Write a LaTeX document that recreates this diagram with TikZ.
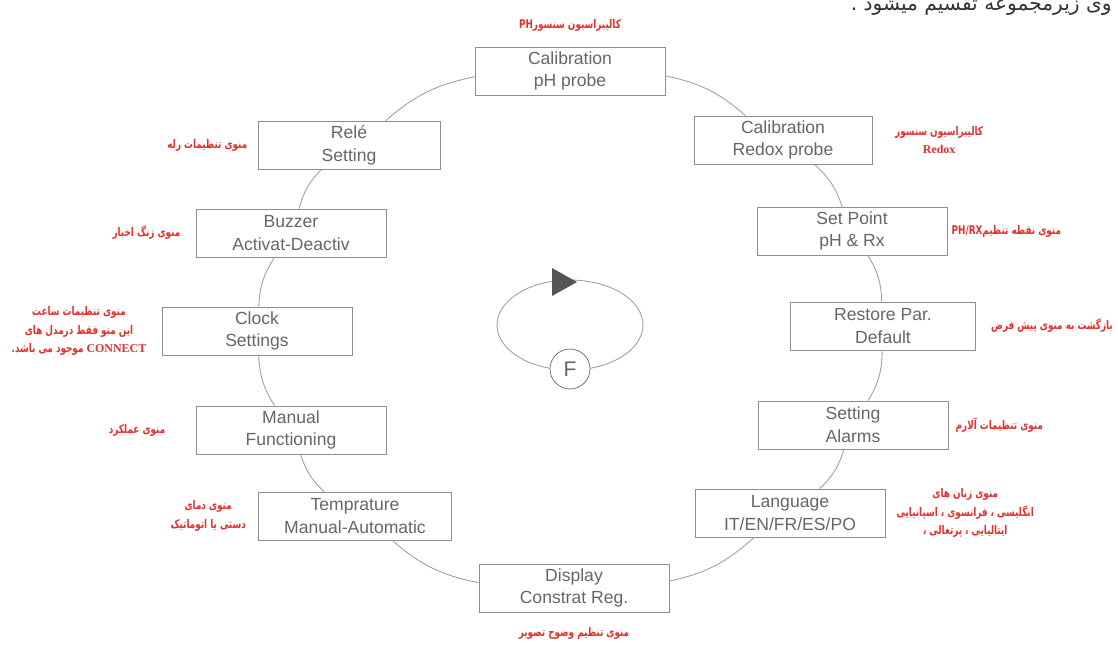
\documentclass[tikz,border=0pt]{standalone}
\usepackage{fontspec}
\setsansfont{Liberation Sans}
\newfontfamily\fa[Script=Arabic, FakeStretch=0.74]{DejaVu Sans}
\newfontfamily\fahead[Script=Arabic]{DejaVu Sans}
\newfontfamily\lat{Liberation Serif}
\TeXXeTstate=1
\usetikzlibrary{positioning}
\definecolor{boxgrey}{HTML}{8E8E8E}
\definecolor{txtgrey}{HTML}{666666}
\definecolor{ringgrey}{HTML}{A0A0A0}
\definecolor{farsired}{HTML}{E0312F}
\definecolor{tipgrey}{HTML}{555555}

\begin{document}
\begin{tikzpicture} [
	x=0.02cm, y=-0.02cm,
	menu/.style = {draw=boxgrey, fill=white, minimum width=3.8cm, minimum height=0.96cm, align=center, inner sep=1pt, text=txtgrey, font=\sffamily\fontsize{10}{13}\selectfont},
	ring/.style = {draw=ringgrey, line width=0.5pt},
	note/.style = {text=farsired, align=center, inner sep=0pt, font=\fa\bfseries\fontsize{6.8}{10.5}\selectfont},
]
\fill[white] (0,0) rectangle (1118,646);
\useasboundingbox (0,0) rectangle (1118,646);

\node [menu] (cph) at (570,71) {Calibration\\pH probe};
\node [menu, minimum width=3.56cm] (crx) at (783,140) {Calibration\\Redox probe};
\node [menu] (spt) at (852,231) {Set Point\\pH \& Rx};
\node [menu, minimum width=3.7cm] (rst) at (883,326) {Restore Par.\\Default};
\node [menu] (alm) at (853,425) {Setting\\Alarms};
\node [menu] (lng) at (790,513) {Language\\IT/EN/FR/ES/PO};
\node [menu] (dsp) at (574,588) {Display\\Constrat Reg.};
\node [menu, minimum width=3.86cm] (tmp) at (355,516) {Temprature\\Manual-Automatic};
\node [menu] (man) at (291,430) {Manual\\Functioning};
\node [menu] (clk) at (257,331) {Clock\\Settings};
\node [menu] (buz) at (291,233) {Buzzer\\Activat-Deactiv};
\node [menu, minimum width=3.64cm] (rel) at (349,145) {Rel\'e\\Setting};

\foreach \a/\b in {cph/crx, crx/spt, spt/rst, rst/alm, alm/lng, lng/dsp, dsp/tmp, tmp/man, man/clk, clk/buz, buz/rel, rel/cph}
	\draw [ring] (\a) to [bend left=15] (\b);

% the F loop in the middle
\draw [ring] (570,325) ellipse [x radius=1.46cm, y radius=0.9cm];
\fill [tipgrey] (552,268) -- (552,296) -- (577,282) -- cycle;
\node [draw=txtgrey, fill=white, circle, minimum size=0.8cm, inner sep=0pt, text=txtgrey, font=\sffamily\fontsize{12}{14}\selectfont] (fkey) at (570,369) {F};

\node [note, above=0.3cm of cph] (lph) {\beginR کالیبراسیون سنسور\beginL PH\endL\endR};
\node [note, right=0.45cm of crx] (lrx) {\beginR کالیبراسیون سنسور\endR\\{\lat Redox}};
\node [note, right=0.08cm of spt] (lsp) {\beginR منوی نقطه تنظیم\beginL PH/RX\endL\endR};
\node [note, right=0.3cm of rst] (lrs) {\beginR بازگشت به منوی پیش فرض\endR};
\node [note, right=0.14cm of alm] (lal) {\beginR منوی تنظیمات آلارم\endR};
\node [note, right=0.22cm of lng] (llg) {\beginR منوی زبان های\endR\\\beginR انگلیسی ، فرانسوی ، اسپانیایی\endR\\،\ \beginR ایتالیایی ، پرتغالی\endR};
\node [note, below=0.3cm of dsp] (ldp) {\beginR منوی تنظیم وضوح تصویر\endR};
\node [note, left=0.24cm of tmp] (ltm) {\beginR منوی دمای\endR\\\beginR دستی یا اتوماتیک\endR};
\node [note, left=0.6cm of man] (lmn) {\beginR منوی عملکرد\endR};
\node [note, left=0.3cm of clk] (lck) {\beginR منوی تنظیمات ساعت\endR\\\beginR این منو فقط درمدل های\endR\\\beginR\beginL{\lat CONNECT}\endL{} موجود می باشد.\endR};
\node [note, left=0.3cm of buz] (lbz) {\beginR منوی زنگ اخبار\endR};
\node [note, left=0.2cm of rel] (lrl) {\beginR منوی تنظیمات  رله\endR};

\node [anchor=base east, inner sep=0pt, text=black!80, font=\fahead\fontsize{11.5}{13}\selectfont] (top) at (1112,10) {\beginR وی زیرمجموعه تقسیم میشود .\endR};
\end{tikzpicture}
\end{document}
